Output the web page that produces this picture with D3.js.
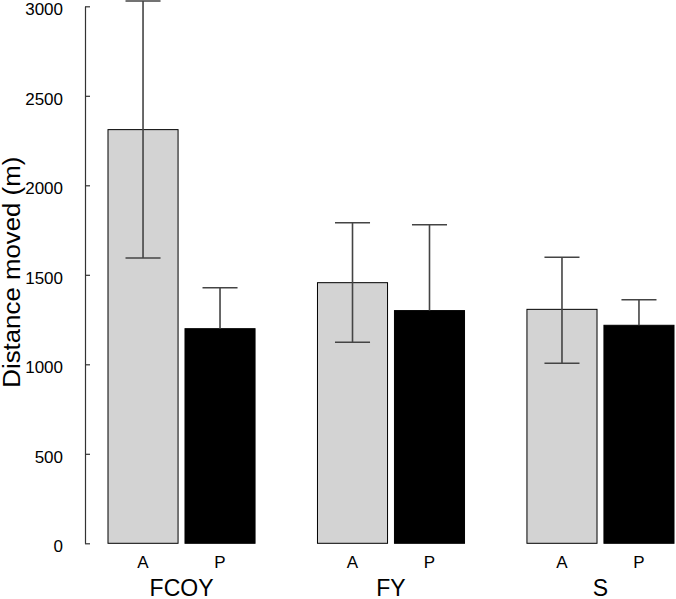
<!DOCTYPE html>
<html>
<head>
<meta charset="utf-8">
<script src="https://cdn.jsdelivr.net/npm/d3@7"></script>
<style>
  html, body { margin: 0; padding: 0; background: #fff; }
  svg { display: block; font-family: "Liberation Sans", Arial, sans-serif; }
</style>
</head>
<body>
<svg id="chart" width="676" height="599"></svg>
<script>
const groups = ["FCOY", "FY", "S"];
const seasons = ["A", "P"];
const means = {
  FCOY: [2311, 1199],
  FY: [1456, 1300],
  S: [1307, 1218]
};
const errUpper = {
  FCOY: [3030, 1428],
  FY: [1791, 1780],
  S: [1598, 1361]
};
const errLower = {
  FCOY: [1594, 970],
  FY: [1123, 820],
  S: [1006, 1075]
};
const yTicks = [0, 500, 1000, 1500, 2000, 2500, 3000];
const fills = { A: "#d3d3d3", P: "#000000" };

const svg = d3.select("#chart");

const y = d3.scaleLinear().domain([0, 3000]).range([543.3, 6.3]);
const x0 = d3.scaleBand().domain(groups).range([108, 674]).paddingInner(0.298).paddingOuter(0);
const x1 = d3.scaleBand().domain(seasons).range([0, x0.bandwidth()]).paddingInner(0.09).paddingOuter(0);

// y axis
const yAxis = d3.axisLeft(y).tickValues(yTicks).tickFormat(d3.format("d"))
  .tickSizeInner(-5).tickSizeOuter(0).tickPadding(22);
const ya = svg.append("g").attr("transform", "translate(85,0)").call(yAxis);
ya.select(".domain").attr("stroke", "#333").attr("stroke-width", 1.2);
ya.selectAll(".tick line").attr("stroke", "#333").attr("stroke-width", 1.2);
ya.selectAll(".tick text").attr("font-size", 17).attr("fill", "#000")
  .attr("y", 2.8)
  .attr("font-family", "'Liberation Sans', Arial, sans-serif");

// y title
svg.append("text")
  .attr("transform", "translate(20,272.2) rotate(-90)")
  .attr("text-anchor", "middle")
  .attr("font-size", 23.5)
  .attr("textLength", 231)
  .attr("lengthAdjust", "spacingAndGlyphs")
  .attr("fill", "#000")
  .text("Distance moved (m)");

// bars
const data = [];
groups.forEach(g => seasons.forEach((s, i) => {
  data.push({ g, s, v: means[g][i], hi: errUpper[g][i], lo: errLower[g][i] });
}));

const gBars = svg.append("g");
gBars.selectAll("rect").data(data).join("rect")
  .attr("x", d => x0(d.g) + x1(d.s))
  .attr("y", d => y(d.v))
  .attr("width", x1.bandwidth())
  .attr("height", d => y(0) - y(d.v))
  .attr("fill", d => fills[d.s])
  .attr("stroke", "#000")
  .attr("stroke-width", 1);

// error bars
const cap = x1.bandwidth() / 2;
const eb = svg.append("g").attr("stroke", "#444").attr("stroke-width", 1.6);
data.forEach(d => {
  const cx = x0(d.g) + x1(d.s) + x1.bandwidth() / 2;
  const lo = d.s === "P" ? d.v : d.lo;
  eb.append("line").attr("x1", cx).attr("x2", cx).attr("y1", y(d.hi)).attr("y2", y(lo));
  eb.append("line").attr("x1", cx - cap / 2).attr("x2", cx + cap / 2).attr("y1", y(d.hi)).attr("y2", y(d.hi));
  if (d.s === "A") {
    eb.append("line").attr("x1", cx - cap / 2).attr("x2", cx + cap / 2).attr("y1", y(d.lo)).attr("y2", y(d.lo));
  }
});

// season labels
svg.append("g").selectAll("text").data(data).join("text")
  .attr("x", d => x0(d.g) + x1(d.s) + x1.bandwidth() / 2)
  .attr("y", 567.5)
  .attr("text-anchor", "middle")
  .attr("font-size", 17)
  .attr("fill", "#000")
  .text(d => d.s);

// group labels
svg.append("g").selectAll("text").data(groups).join("text")
  .attr("x", g => x0(g) + x0.bandwidth() / 2)
  .attr("y", 595.5)
  .attr("text-anchor", "middle")
  .attr("font-size", 23)
  .attr("fill", "#000")
  .text(g => g);
</script>
</body>
</html>
